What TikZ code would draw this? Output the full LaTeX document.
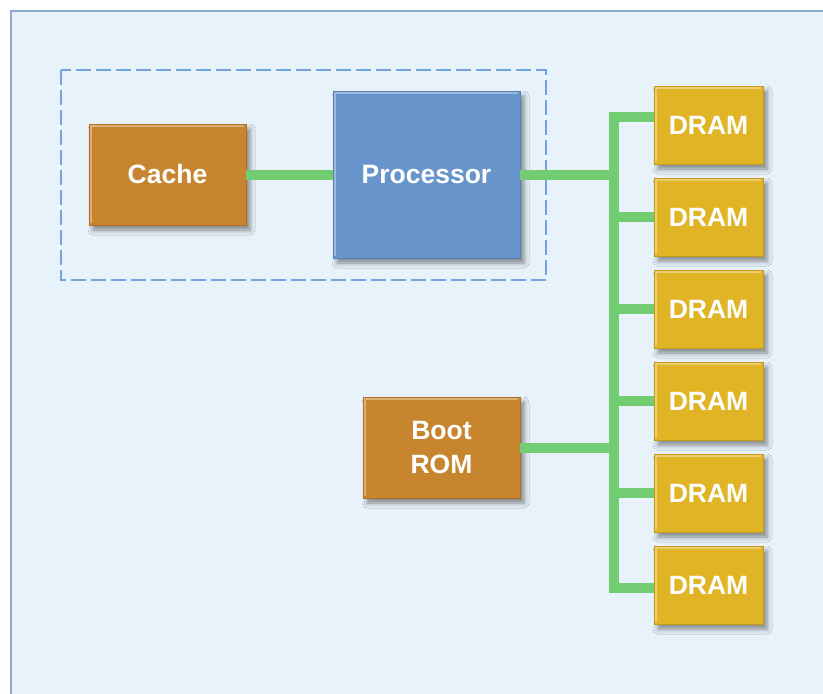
\documentclass[tikz,border=0pt]{standalone}
\usepackage{fontspec}
\setmainfont{Liberation Sans}
\usetikzlibrary{shadows,shadows.blur}

\definecolor{panelbg}{HTML}{E7F2FA}
\definecolor{panelline}{HTML}{8DAACF}
\definecolor{groupline}{HTML}{70A5DE}
\definecolor{orangefill}{HTML}{C8852F}
\definecolor{orangeline}{HTML}{B07020}
\definecolor{bluefill}{HTML}{6894CC}
\definecolor{blueline}{HTML}{5A80B4}
\definecolor{goldfill}{HTML}{E0B425}
\definecolor{goldline}{HTML}{C49A18}
\definecolor{busgreen}{HTML}{72CC72}

\tikzset{
  block/.style={
    rectangle, inner sep=0pt, outer sep=0pt, line width=1pt,
    font=\fontsize{26.5}{34}\selectfont\bfseries, text=white, align=center,
    blur shadow={shadow xshift=4pt, shadow yshift=-5pt, shadow blur radius=5pt, shadow opacity=45},
    path picture={
      \draw[white, opacity=0.35, line width=2.5pt]
        ([xshift=1.8pt,yshift=1.8pt]path picture bounding box.south west)
        |- ([xshift=-1.8pt,yshift=-1.8pt]path picture bounding box.north east);
    }
  },
  orangebox/.style={block, fill=orangefill, draw=orangeline},
  bluebox/.style={block, fill=bluefill, draw=blueline},
  dramblock/.style={block, fill=goldfill, draw=goldline, minimum width=109pt, minimum height=78pt},
  bus/.style={draw=busgreen, line width=10pt, line join=miter},
}

\begin{document}
\begin{tikzpicture}[x=1pt, y=-1pt]
  \useasboundingbox (0,0) rectangle (823,694);

  % panel
  \draw[panelline, fill=panelbg, line width=2pt] (11,11) rectangle (840,710);

  % processor group outline
  \draw[groupline, line width=2.5pt, dash pattern=on 15pt off 5pt] (61,70) rectangle (546,280);

  % blocks
  \node[orangebox, minimum width=157pt, minimum height=101pt] (cache) at (167.5,174.5) {Cache};
  \node[bluebox, minimum width=187pt, minimum height=167pt] (proc) at (426.5,174.5) {Processor};
  \node[orangebox, minimum width=157pt, minimum height=101pt] (boot) at (441.5,447.5) {Boot\\ROM};

  \node[dramblock] (dram1) at (708.5,125) {DRAM};
  \node[dramblock] (dram2) at (708.5,217) {DRAM};
  \node[dramblock] (dram3) at (708.5,309) {DRAM};
  \node[dramblock] (dram4) at (708.5,401) {DRAM};
  \node[dramblock] (dram5) at (708.5,493) {DRAM};
  \node[dramblock] (dram6) at (708.5,585) {DRAM};

  % memory bus
  \coordinate (bustop) at (614,117);
  \coordinate (busbot) at (614,588);
  \draw[bus] (cache.east) -- (proc.west);
  \draw[bus] (bustop -| dram1.west) -- (bustop) -- (busbot) -- (busbot -| dram6.west);
  \draw[bus] (proc.east) -- (proc.east -| bustop);
  \draw[bus] (boot.east) -- (boot.east -| bustop);
  \foreach \d in {dram2,dram3,dram4,dram5}
    \draw[bus] (\d.west) -- (\d.west -| bustop);
\end{tikzpicture}
\end{document}
